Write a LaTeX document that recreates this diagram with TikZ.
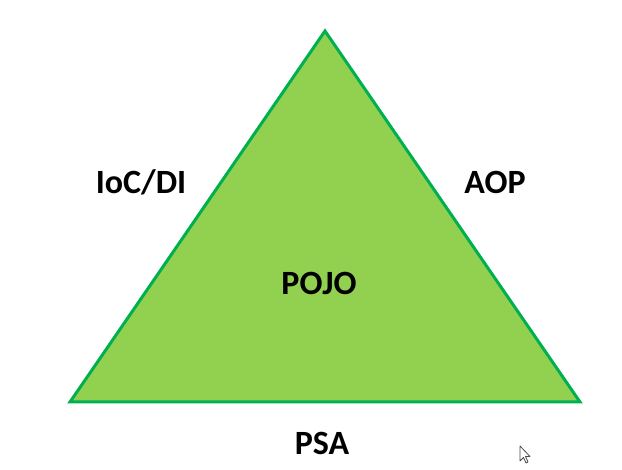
\documentclass[tikz,border=0pt]{standalone}
\usepackage{fontspec}
\setmainfont{Carlito}
\definecolor{leaf}{HTML}{92D050}
\definecolor{rim}{HTML}{00B050}
\begin{document}
\begin{tikzpicture}[x=1pt,y=-1pt,
  lbl/.style={font=\fontsize{34}{40}\selectfont\bfseries, text=black, inner sep=0pt}]
  \useasboundingbox (0,0) rectangle (622,470);
  \fill[white] (0,0) rectangle (622,470);
  % the triangle
  \coordinate (top) at (325,31);
  \coordinate (bl) at (70,402);
  \coordinate (br) at (580,402);
  \filldraw[fill=leaf, draw=rim, line width=3pt, line join=miter] (top) -- (bl) -- (br) -- cycle;
  % labels
  \node[lbl] (ioc) at (141,182) {IoC/DI};
  \node[lbl] (aop) at (495,182) {AOP};
  \node[lbl] (pojo) at (319,283) {POJO};
  \node[lbl] (psa) at (322,443) {PSA};
  % pointer
  \filldraw[fill=white, draw=black!70, line width=0.8pt, line join=round]
    (520,446) -- (520,461) -- (523.5,457.5) -- (526,463) -- (528,462) -- (525.5,456.5) -- (530,456.5) -- cycle;
\end{tikzpicture}
\end{document}
